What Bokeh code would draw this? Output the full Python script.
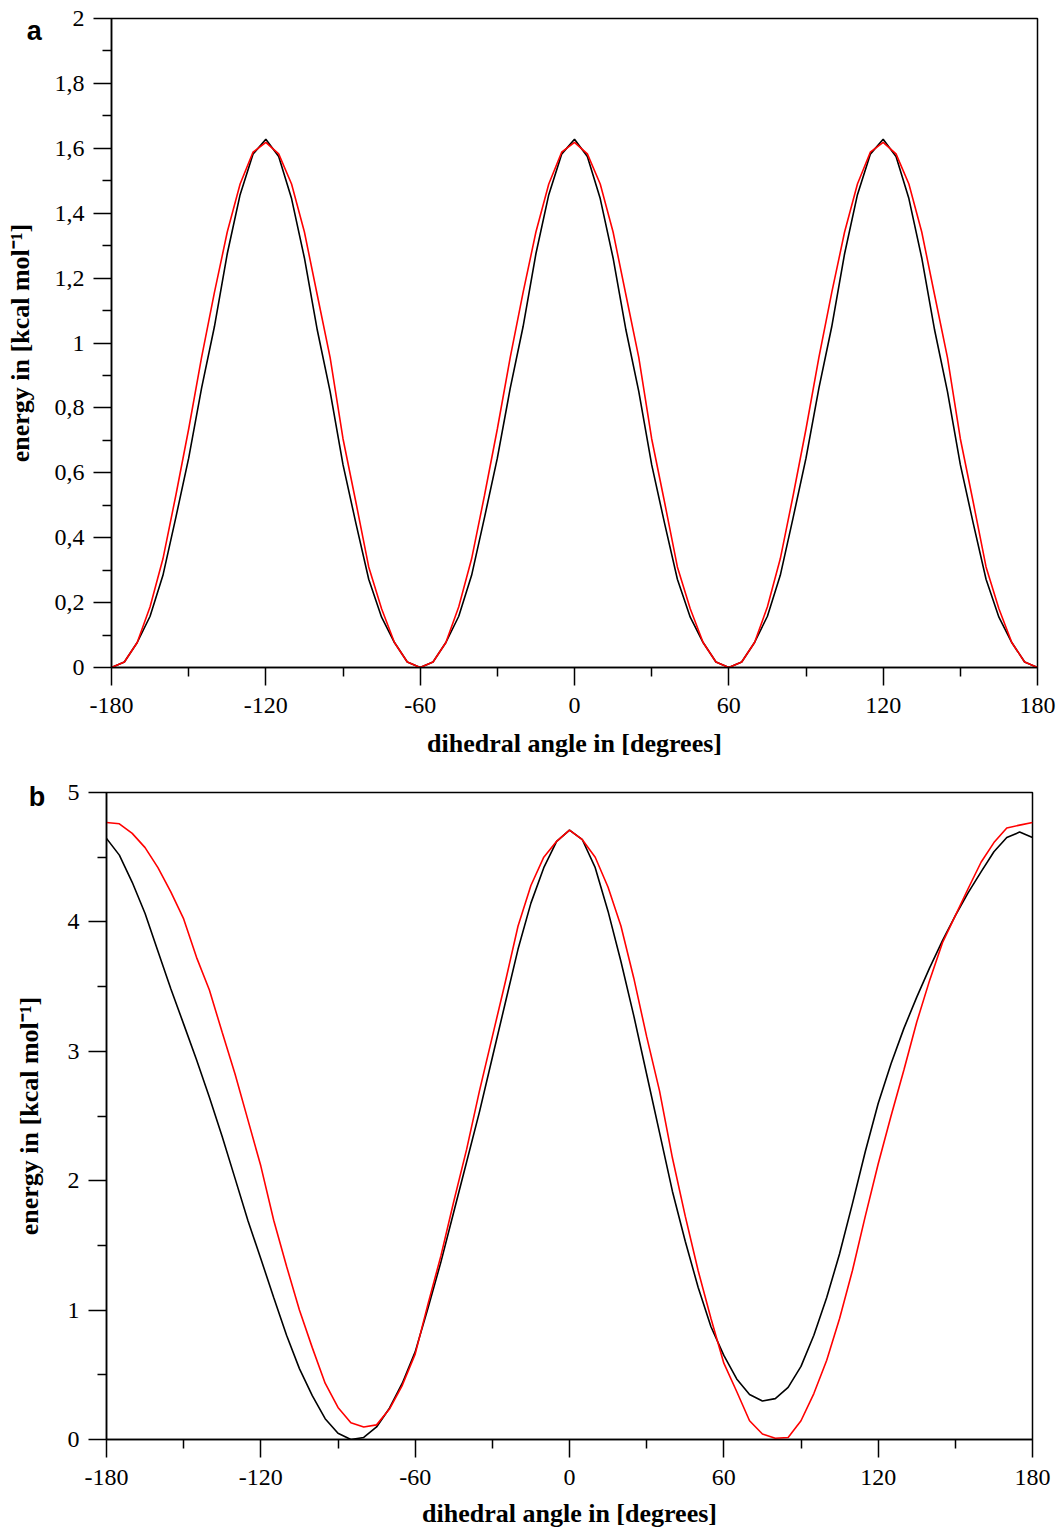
from bokeh.plotting import figure
from bokeh.layouts import column, row
from bokeh.models import Range1d, FixedTicker, CustomJSTickFormatter, Label
from bokeh.embed import file_html
from bokeh.resources import INLINE

# ---------------- data ----------------
angles = list(range(-180, 181, 5))

# panel a
a_black = [0.0, 0.017, 0.077, 0.158, 0.284, 0.462, 0.645, 0.860, 1.050, 1.275, 1.457, 1.582, 1.628,
           1.575, 1.445, 1.262, 1.040, 0.850, 0.625, 0.445, 0.272, 0.155, 0.077, 0.017, 0.0,
           0.017, 0.077, 0.158, 0.284, 0.462, 0.645, 0.860, 1.050, 1.275, 1.457, 1.582, 1.628,
           1.575, 1.445, 1.262, 1.040, 0.850, 0.625, 0.445, 0.272, 0.155, 0.077, 0.017, 0.0,
           0.017, 0.077, 0.158, 0.284, 0.462, 0.645, 0.860, 1.050, 1.275, 1.457, 1.582, 1.628,
           1.575, 1.445, 1.262, 1.040, 0.850, 0.625, 0.445, 0.272, 0.155, 0.077, 0.017, 0.0]
a_red = [0.0, 0.017, 0.077, 0.187, 0.335, 0.530, 0.735, 0.955, 1.155, 1.342, 1.490, 1.588, 1.618,
         1.583, 1.490, 1.342, 1.148, 0.955, 0.705, 0.510, 0.310, 0.181, 0.077, 0.017, 0.0,
         0.017, 0.077, 0.187, 0.335, 0.530, 0.735, 0.955, 1.155, 1.342, 1.490, 1.588, 1.618,
         1.583, 1.490, 1.342, 1.148, 0.955, 0.705, 0.510, 0.310, 0.181, 0.077, 0.017, 0.0,
         0.017, 0.077, 0.187, 0.335, 0.530, 0.735, 0.955, 1.155, 1.342, 1.490, 1.588, 1.618,
         1.583, 1.490, 1.342, 1.148, 0.955, 0.705, 0.510, 0.310, 0.181, 0.077, 0.017, 0.0]

# panel b
b_black = [4.645, 4.516, 4.306, 4.065, 3.774, 3.484, 3.210, 2.935, 2.645, 2.339, 2.016, 1.690, 1.397,
           1.097, 0.806, 0.548, 0.339, 0.161, 0.048, 0.0, 0.016, 0.097, 0.242, 0.435, 0.677,
           1.016, 1.371, 1.758, 2.145, 2.532, 2.952, 3.371, 3.790, 4.145, 4.419, 4.623, 4.710,
           4.635, 4.419, 4.081, 3.694, 3.274, 2.823, 2.371, 1.919, 1.532, 1.177, 0.871, 0.650,
           0.468, 0.348, 0.297, 0.316, 0.403, 0.565, 0.806, 1.097, 1.435, 1.823, 2.226, 2.597,
           2.903, 3.177, 3.419, 3.645, 3.855, 4.048, 4.226, 4.387, 4.542, 4.652, 4.694, 4.652]
b_red = [4.768, 4.758, 4.684, 4.574, 4.419, 4.232, 4.023, 3.726, 3.474, 3.145, 2.823, 2.468, 2.113,
         1.694, 1.339, 1.000, 0.710, 0.435, 0.248, 0.129, 0.097, 0.113, 0.235, 0.419, 0.660,
         1.048, 1.419, 1.839, 2.242, 2.694, 3.113, 3.532, 3.968, 4.281, 4.500, 4.623, 4.710,
         4.635, 4.500, 4.268, 3.968, 3.565, 3.113, 2.694, 2.177, 1.726, 1.306, 0.935, 0.590,
         0.371, 0.145, 0.042, 0.010, 0.016, 0.145, 0.355, 0.613, 0.935, 1.306, 1.726, 2.129,
         2.500, 2.855, 3.226, 3.548, 3.839, 4.048, 4.258, 4.461, 4.613, 4.726, 4.748, 4.768]

x_major = [-180, -120, -60, 0, 60, 120, 180]
x_minor = [-150, -90, -30, 30, 90, 150]
a_y_major = [0, 0.2, 0.4, 0.6, 0.8, 1.0, 1.2, 1.4, 1.6, 1.8, 2.0]
a_y_minor = [0.1, 0.3, 0.5, 0.7, 0.9, 1.1, 1.3, 1.5, 1.7, 1.9]
b_y_major = [0, 1, 2, 3, 4, 5]
b_y_minor = [0.5, 1.5, 2.5, 3.5, 4.5]

x_title = "dihedral angle in [degrees]"
y_title = "energy in [kcal mol\u207b\u00b9]"

SERIF = "Liberation Serif"

x_fmt = CustomJSTickFormatter(code="return tick.toFixed(0);")
y_fmt = CustomJSTickFormatter(code="""
if (Math.abs(tick - Math.round(tick)) < 1e-9) { return Math.round(tick).toString(); }
return tick.toFixed(1).replace('.', ',');
""")


def make_panel(width, height, ymax, ymaj, ymin, yblack, yred, borders, letter, letter_xy,
               ylab_standoff, xlab_standoff):
    left, right, top, bottom = borders
    p = figure(width=width, height=height,
               x_range=Range1d(-180, 180), y_range=Range1d(0, ymax),
               output_backend="svg", toolbar_location=None,
               min_border_left=left, min_border_right=right,
               min_border_top=top, min_border_bottom=bottom)
    p.xgrid.visible = False
    p.ygrid.visible = False
    p.outline_line_color = "black"
    p.outline_line_width = 1.5
    p.outline_line_alpha = 1.0
    p.background_fill_color = "white"
    p.border_fill_color = "white"

    p.xaxis.ticker = FixedTicker(ticks=x_major, minor_ticks=x_minor)
    p.yaxis.ticker = FixedTicker(ticks=ymaj, minor_ticks=ymin)
    p.xaxis.formatter = x_fmt
    p.yaxis.formatter = y_fmt
    p.xaxis.axis_label = x_title
    p.yaxis.axis_label = y_title

    for ax in (p.xaxis[0], p.yaxis[0]):
        ax.major_tick_out = 18
        ax.major_tick_in = 0
        ax.minor_tick_out = 9
        ax.minor_tick_in = 0
        ax.axis_line_width = 1.5
        ax.axis_line_color = "black"
        ax.major_tick_line_width = 1.5
        ax.minor_tick_line_width = 1.5
        ax.major_tick_line_color = "black"
        ax.minor_tick_line_color = "black"
        ax.major_label_text_font = SERIF
        ax.major_label_text_font_size = "24px"
        ax.major_label_text_color = "black"
        ax.axis_label_text_font = SERIF
        ax.axis_label_text_font_style = "bold"
        ax.axis_label_text_font_size = "26px"
        ax.axis_label_text_color = "black"
    p.xaxis.major_label_standoff = 12
    p.yaxis.major_label_standoff = 9
    p.xaxis.axis_label_standoff = xlab_standoff
    p.yaxis.axis_label_standoff = ylab_standoff

    p.line(angles, yblack, line_color="black", line_width=1.6)
    p.line(angles, yred, line_color="#ff0000", line_width=1.6)

    # panel letter: placed in a side panel so that it is not clipped to the frame
    p.add_layout(Label(x=letter_xy[0], y=letter_xy[1],
                       text=letter, text_font="Liberation Sans", text_font_style="bold",
                       text_font_size="27px", text_align="center", text_baseline="middle",
                       text_color="black"), "right")
    return p


pa = make_panel(1061, 768, 2, a_y_major, a_y_minor, a_black, a_red,
                (111, 24, 18, 101), "a", (-210, 1.963), 17, 13)
pb = make_panel(1061, 762, 5, b_y_major, b_y_minor, b_black, b_red,
                (106, 29, 24, 90), "b", (-207, 4.965), 21, 11)

layout = column(row(pa), row(pb), spacing=0)
open("out.html", "w").write(file_html(layout, INLINE))
